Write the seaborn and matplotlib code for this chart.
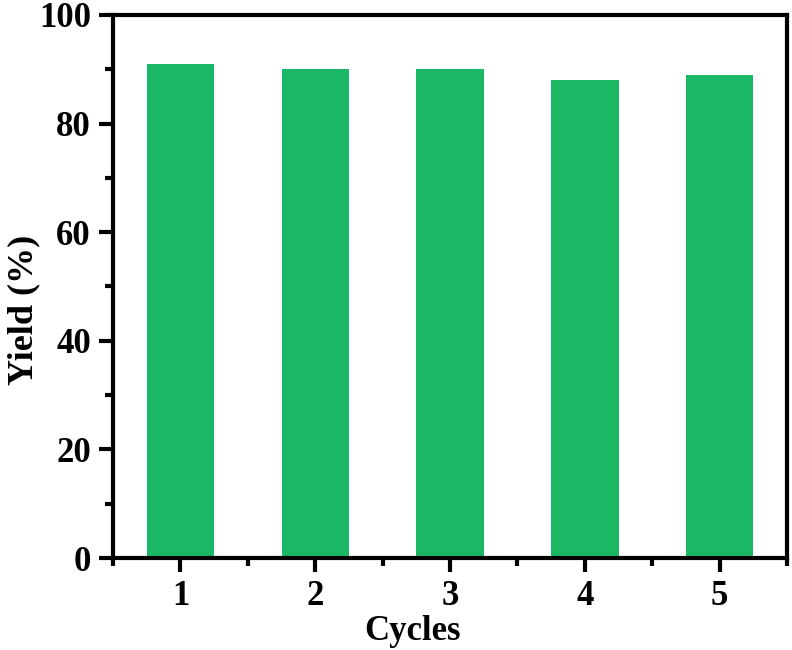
import matplotlib
matplotlib.use('Agg')
import matplotlib.pyplot as plt
from matplotlib.ticker import MultipleLocator
import seaborn as sns
import pandas as pd

cycles = [1, 2, 3, 4, 5]
yields = [91, 90, 90, 88, 89]

sns.set_style('ticks')
plt.rcParams['font.family'] = ['Liberation Serif', 'DejaVu Serif']
plt.rcParams['font.weight'] = 'bold'
plt.rcParams['text.color'] = 'black'
plt.rcParams['axes.labelcolor'] = 'black'
plt.rcParams['xtick.color'] = 'black'
plt.rcParams['ytick.color'] = 'black'

df = pd.DataFrame({'Cycles': cycles, 'Yield': yields})

fig = plt.figure(figsize=(7.92, 6.5), dpi=100)
ax = fig.add_axes([0.1427, 0.1415, 0.8510, 0.8355])
sns.barplot(data=df, x='Cycles', y='Yield', native_scale=True, width=0.5,
            color='#1ab864', saturation=1, linewidth=0, ax=ax)

ax.set_xlim(0.5, 5.5)
ax.set_ylim(0, 100)
ax.xaxis.set_minor_locator(MultipleLocator(0.5))
ax.yaxis.set_major_locator(MultipleLocator(20))
ax.yaxis.set_minor_locator(MultipleLocator(10))
ax.set_xticks(cycles)
ax.set_xticklabels([str(c) for c in cycles])

for s in ax.spines.values():
    s.set_linewidth(3)
    s.set_color('black')
ax.tick_params(which='major', direction='out', length=10, width=3, labelsize=25, pad=6)
ax.tick_params(which='minor', direction='out', length=6, width=3)
for lab in ax.get_xticklabels() + ax.get_yticklabels():
    lab.set_fontweight('bold')

ax.set_xlabel('Cycles', fontsize=25, fontweight='bold', labelpad=2)
ax.set_ylabel('Yield (%)', fontsize=26, fontweight='bold')
# labels sit a little off-centre in the original
ax.xaxis.set_label_coords(0.444, -0.105)
ax.yaxis.set_label_coords(-0.108, 0.457)

fig.savefig('out.png', dpi=100)
